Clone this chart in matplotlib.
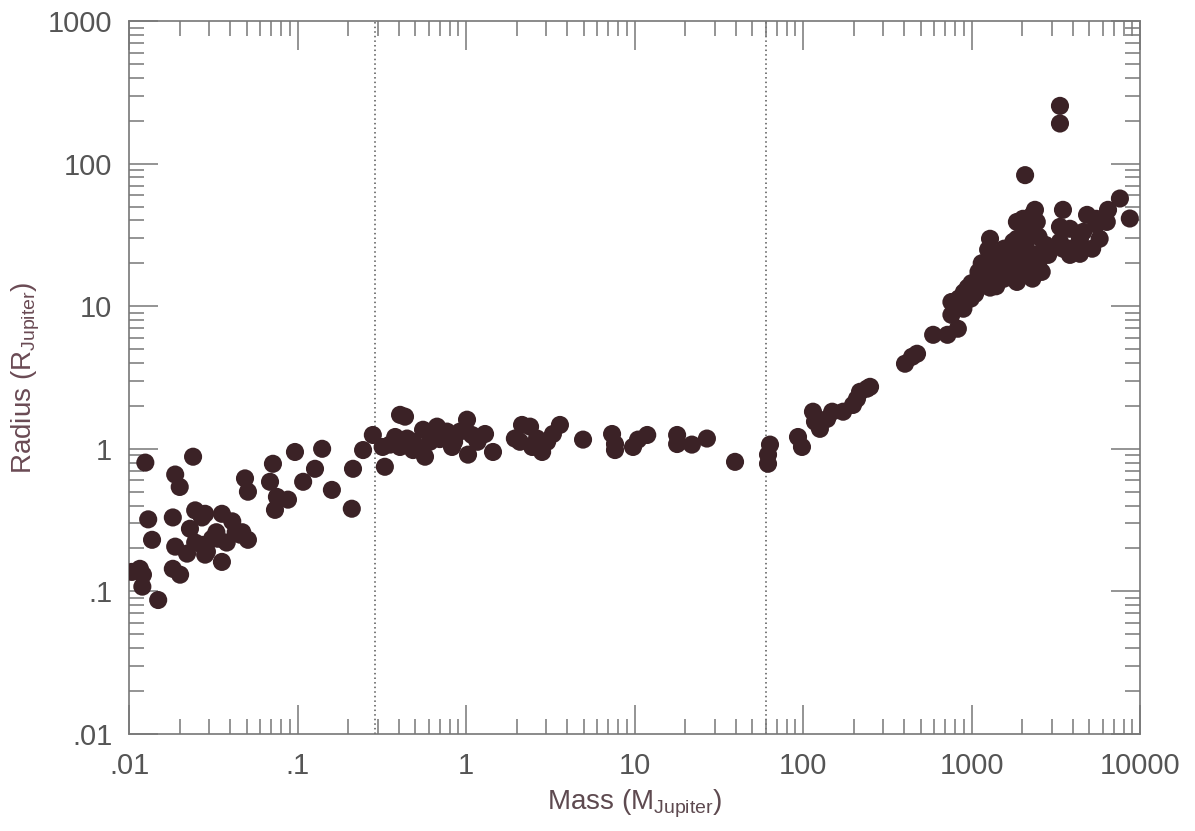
import numpy as np
import matplotlib
matplotlib.use("Agg")
import matplotlib.pyplot as plt
from matplotlib import ticker

plt.rcParams['font.family'] = ['Liberation Sans', 'DejaVu Sans']
plt.rcParams['mathtext.fontset'] = 'custom'
plt.rcParams['mathtext.rm'] = 'Liberation Sans'

# small planets, below ~0.3 M_Jupiter  (mass, radius in Jupiter units)
small_mass = [0.0125, 0.024, 0.0188, 0.020, 0.013, 0.0182, 0.0137, 0.0247, 0.0271, 0.023,
              0.0356, 0.041, 0.0188, 0.0221, 0.0271, 0.0283, 0.0337, 0.0311, 0.0356, 0.0456,
              0.0508, 0.0488, 0.0508, 0.0116, 0.0121, 0.012, 0.0149, 0.0104, 0.0182, 0.0201,
              0.0247, 0.029, 0.033, 0.038, 0.043, 0.047, 0.0283,
              0.0715, 0.0966, 0.14, 0.0687, 0.127, 0.108, 0.0755, 0.0878, 0.0735, 0.16,
              0.21, 0.2135, 0.245, 0.28]
small_radius = [0.80, 0.88, 0.66, 0.54, 0.32, 0.33, 0.23, 0.37, 0.33, 0.275,
                0.35, 0.31, 0.206, 0.184, 0.212, 0.181, 0.234, 0.234, 0.161, 0.25,
                0.23, 0.62, 0.50, 0.144, 0.131, 0.108, 0.087, 0.137, 0.144, 0.131,
                0.22, 0.19, 0.26, 0.22, 0.26, 0.26, 0.35,
                0.785, 0.95, 1.0, 0.587, 0.724, 0.587, 0.46, 0.44, 0.373, 0.515,
                0.38, 0.724, 0.98, 1.25]

# giant planets and brown dwarfs
giant_mass = [0.33, 0.32, 0.406, 0.4345, 0.354, 0.447, 0.485, 0.556, 0.571, 0.673,
              0.771, 0.826, 0.921, 1.014, 1.085, 1.028, 1.297, 1.446, 0.533, 0.61,
              0.485, 0.406, 0.38, 0.70, 0.85, 1.17,
              2.15, 2.4, 1.95, 2.09, 2.47, 2.83, 3.03, 3.28, 3.61, 2.64,
              4.95, 7.36, 7.66, 7.66, 9.8, 10.5, 11.9, 17.9, 17.9, 21.9, 26.9, 39.5]
giant_radius = [0.748, 1.03, 1.73, 1.68, 1.07, 1.18, 0.98, 1.36, 0.88, 1.43,
                1.32, 1.03, 1.32, 1.6, 1.25, 0.91, 1.27, 0.95, 1.0, 1.12,
                1.12, 1.03, 1.21, 1.17, 1.12, 1.12,
                1.47, 1.43, 1.18, 1.12, 1.03, 0.95, 1.12, 1.27, 1.47, 1.18,
                1.16, 1.27, 1.08, 0.98, 1.03, 1.16, 1.25, 1.25, 1.08, 1.07, 1.18, 0.81]

# stars
star_mass = [63.7, 62, 62, 93.4, 98.6, 114.6, 117.8, 126, 139, 149, 173, 209, 218, 240, 250, 198,
             403, 444, 475, 592, 720, 830, 760, 760, 895, 840, 990, 950, 1100, 1290,
             1220, 1170, 1100, 1220, 1470, 1560, 1860, 2300, 2020, 1700, 1770, 2020, 2300,
             2500, 2610, 2850, 2750, 2500, 2140, 1862, 1288, 1255, 2020, 2380, 2440, 3490,
             3350, 4850, 6460, 5500, 5760, 4400, 3840, 4400, 5200, 3350, 3840, 4600, 5500,
             6350, 3840, 3490, 2850, 1560, 1560, 1770, 1860, 2300, 7600, 8700, 2080,
             1400, 1600, 1900, 2200, 2600, 2100, 1650, 1350, 1150, 1400, 1900, 1300, 1000,
             1050, 900, 3350, 3350]
star_radius = [1.07, 0.91, 0.785, 1.21, 1.03, 1.82, 1.55, 1.38, 1.62, 1.82, 1.82, 2.24, 2.51, 2.64, 2.72, 2.03,
               3.95, 4.42, 4.64, 6.3, 6.3, 6.95, 8.7, 10.7, 9.6, 11.3, 11.3, 13.5, 13.5, 13.5,
               14.8, 15.6, 17.4, 18.3, 16.6, 15.6, 14.8, 15.6, 17.4, 18.3, 22.9, 22.9, 22.9,
               20.5, 17.4, 22.9, 26.9, 30.7, 33.2, 29.7, 29.7, 24.9, 41, 47.4, 39, 47.4,
               36, 43.7, 47.4, 37.3, 29.7, 29.7, 25.3, 23.3, 25.3, 28.3, 34.9, 33.2, 41,
               39, 22.9, 25.3, 25.3, 25.3, 21.5, 28.3, 39, 43.7, 56.9, 41.2, 83,
               20, 19, 20, 19, 24, 26, 24, 22, 20, 13.8, 17, 16.5, 14.5,
               12.2, 12.5, 191, 254]

# dotted divisions
boundaries = [0.29, 60]

# axis ticks
x_ticks = [0.01, 0.1, 1, 10, 100, 1000, 10000]
x_tick_labels = ['.01', '.1', '1', '10', '100', '1000', '10000']
y_ticks = [0.01, 0.1, 1, 10, 100, 1000]
y_tick_labels = ['.01', '.1', '1', '10', '100', '1000']

mass = np.array(small_mass + giant_mass + star_mass)
radius = np.array(small_radius + giant_radius + star_radius)

fig = plt.figure(figsize=(11.95, 8.31), dpi=100)
ax = fig.add_axes([129/1195, 97/831, 1011/1195, 713/831])

for b in boundaries:
    ax.axvline(b, color='#555555', ls=(0, (1, 2)), lw=1.1, zorder=1)

ax.scatter(mass, radius, s=170, c='#3b2226', edgecolors='none', zorder=3)

ax.set_xscale('log')
ax.set_yscale('log')
ax.set_xlim(0.01, 10000)
ax.set_ylim(0.01, 1000)

# only the labelled decades as major ticks, plain minor ticks in between
ax.set_xticks(x_ticks)
ax.set_xticklabels(x_tick_labels)
ax.set_yticks(y_ticks)
ax.set_yticklabels(y_tick_labels)
ax.xaxis.set_minor_locator(ticker.LogLocator(base=10, subs=np.arange(2, 10), numticks=20))
ax.yaxis.set_minor_locator(ticker.LogLocator(base=10, subs=np.arange(2, 10), numticks=20))
ax.xaxis.set_minor_formatter(ticker.NullFormatter())
ax.yaxis.set_minor_formatter(ticker.NullFormatter())

ax.tick_params(which='both', direction='in', top=True, right=True,
               color='#777777', labelcolor='#555555', labelsize=21)
ax.tick_params(which='major', length=21, width=1.1)
ax.tick_params(which='minor', length=10.5, width=1.1)
ax.tick_params(axis='x', pad=13)
ax.tick_params(axis='y', pad=12)

for sp in ax.spines.values():
    sp.set_color('#777777')
    sp.set_linewidth(1.2)

ax.set_xlabel(r'Mass (M$_{\rm Jupiter}$)', fontsize=20, color='#5e4a50', labelpad=5)
ax.set_ylabel(r'Radius (R$_{\rm Jupiter}$)', fontsize=20, color='#6a4a54', labelpad=4)

fig.savefig('out.png', dpi=100)
